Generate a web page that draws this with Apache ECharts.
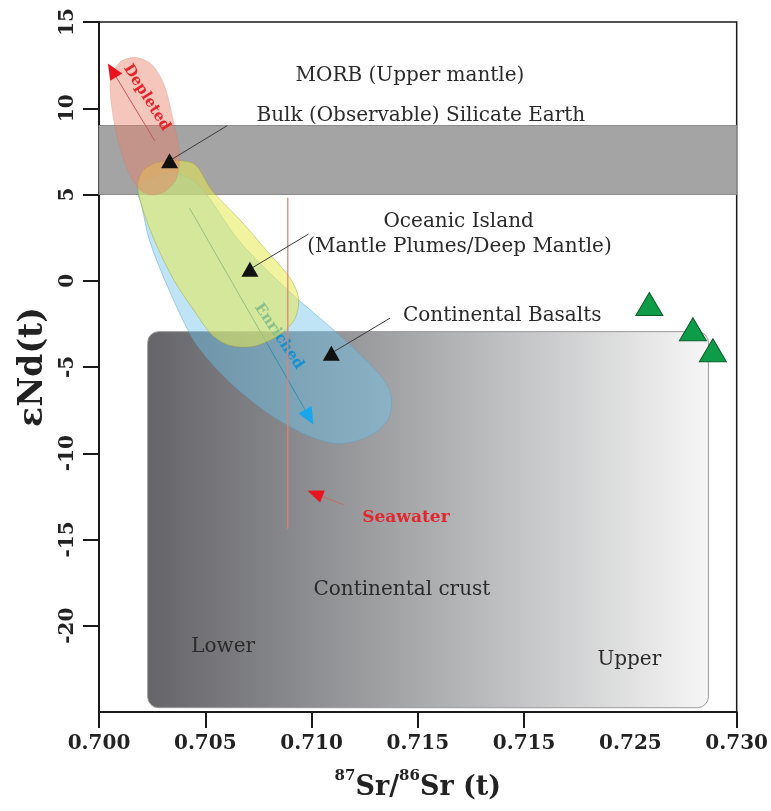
<!DOCTYPE html>
<html>
<head>
<meta charset="utf-8">
<script src="https://cdn.jsdelivr.net/npm/echarts@6/dist/echarts.min.js"></script>
<style>
  html, body { margin: 0; padding: 0; background: #ffffff; }
  #chart { width: 771px; height: 811px; }
</style>
</head>
<body>
<div id="chart"></div>
<script>
// ---- Axis ticks and labels ----
const xTickValues  = [0.700, 0.705, 0.710, 0.715, 0.720, 0.730];
const xLabelValues = [0.700, 0.705, 0.710, 0.715, 0.720, 0.725, 0.730];
const xTickLabels  = ['0.700', '0.705', '0.710', '0.715', '0.715', '0.725', '0.730'];
const yTickValues  = [-20, -15, -10, -5, 0, 5, 10, 15];

// ---- Reservoir fields (87Sr/86Sr, εNd) ----
const bseBand   = [0.700, 5, 0.730, 9];              // Bulk Silicate Earth band
const crustBox  = [0.70229, -2.95, 0.72867, -24.75];  // continental crust box

const depletedField = [
  [0.70168, 12.95], [0.70248, 12.54], [0.70308, 11.32], [0.70350, 9.28],
  [0.70379, 7.42], [0.70364, 5.91], [0.70308, 5.16], [0.70248, 4.98],
  [0.70192, 5.27], [0.70136, 6.38], [0.70084, 8.41], [0.70056, 10.45],
  [0.70056, 11.73], [0.70098, 12.66]
];
const oibField = [
  [0.70271, 6.84], [0.70379, 6.96], [0.70453, 6.73],
  [0.70533, 5.21], [0.70668, 3.47], [0.70790, 1.73], [0.70902, 0.10],
  [0.70939, -1.06], [0.70921, -2.23], [0.70846, -3.16], [0.70729, -3.80],
  [0.70612, -3.74], [0.70528, -3.10], [0.70449, -1.76], [0.70355, -0.02],
  [0.70262, 2.31], [0.70201, 4.34], [0.70182, 5.51], [0.70206, 6.38]
];
const enrichedField = [
  [0.70238, 5.91], [0.70355, 6.26], [0.70472, 5.51], [0.70659, 2.31],
  [0.70893, -0.60], [0.71126, -3.10], [0.71327, -5.54], [0.71374, -6.70],
  [0.71360, -8.04], [0.71266, -9.03], [0.71126, -9.44], [0.70972, -8.91],
  [0.70785, -7.58], [0.70598, -5.66], [0.70449, -3.51], [0.70332, -0.60],
  [0.70238, 2.31], [0.70201, 4.34], [0.70182, 5.33]
];

// ---- Points ----
const reservoirPoints = [[0.70332, 6.96], [0.70710, 0.67], [0.71093, -4.20]];
const samplePoints    = [[0.72589, -1.35], [0.72794, -2.81], [0.72888, -4.03]];

// leader lines: from reservoir point to its label
const leaderLines = [
  [0.70332, 6.96, 0.70603, 8.99],
  [0.70710, 0.67, 0.70986, 2.71],
  [0.71093, -4.20, 0.71369, -2.17]
];

// trend arrows: [x0, y0, xTip, yTip]
const depletedArrow = [0.70262, 8.12, 0.70042, 12.60];
const enrichedArrow = [0.70425, 4.23, 0.71009, -8.33];
const seawaterArrow = [0.71150, -12.98, 0.70981, -12.17];
const seawaterLine  = [0.70888, 4.81, 0.70888, -14.38];

// ---- Text annotations: [x, y, text] ----
const fieldLabels = [
  [0.71463, 11.90, 'MORB (Upper mantle)'],
  [0.71514, 9.57, 'Bulk (Observable) Silicate Earth'],
  [0.71692, 3.42, 'Oceanic Island'],
  [0.71696, 1.96, '(Mantle Plumes/Deep Mantle)'],
  [0.71897, -2.05, 'Continental Basalts'],
  [0.71425, -17.92, 'Continental crust'],
  [0.70584, -21.24, 'Lower'],
  [0.72495, -21.99, 'Upper']
];
const seawaterLabel = [0.71444, -13.74, 'Seawater'];
const depletedLabel = [0.70224, 10.62, 'Depleted'];
const enrichedLabel = [0.70846, -3.22, 'Enriched'];

const SERIF = '"DejaVu Serif", "Liberation Serif", serif';

const chart = echarts.init(document.getElementById('chart'), null, { renderer: 'canvas' });

function polygonSeries(points, fill, stroke, z) {
  return {
    type: 'custom',
    coordinateSystem: 'cartesian2d',
    z: z,
    silent: true,
    data: points,
    renderItem: function (params, api) {
      if (params.dataIndex !== 0) return null;
      const pts = points.map(p => api.coord(p));
      return {
        type: 'polygon',
        shape: { points: pts, smooth: 0.3 },
        style: { fill: fill, stroke: stroke, lineWidth: 0.8 }
      };
    }
  };
}

function rectSeries(box, style, radius, z) {
  return {
    type: 'custom',
    coordinateSystem: 'cartesian2d',
    z: z,
    silent: true,
    data: [box],
    renderItem: function (params, api) {
      const p0 = api.coord([api.value(0), api.value(1)]);
      const p1 = api.coord([api.value(2), api.value(3)]);
      return {
        type: 'rect',
        shape: {
          x: Math.min(p0[0], p1[0]), y: Math.min(p0[1], p1[1]),
          width: Math.abs(p1[0] - p0[0]), height: Math.abs(p1[1] - p0[1]),
          r: radius
        },
        style: style
      };
    }
  };
}

function arrowSeries(seg, lineColor, headColor, headLen, headWidth, z) {
  return {
    type: 'custom',
    coordinateSystem: 'cartesian2d',
    z: z,
    silent: true,
    data: [seg],
    renderItem: function (params, api) {
      const p0 = api.coord([api.value(0), api.value(1)]);
      const p1 = api.coord([api.value(2), api.value(3)]);
      const dx = p1[0] - p0[0], dy = p1[1] - p0[1];
      const len = Math.sqrt(dx * dx + dy * dy);
      const ux = dx / len, uy = dy / len;
      const bx = p1[0] - ux * headLen, by = p1[1] - uy * headLen;
      const nx = -uy * headWidth / 2, ny = ux * headWidth / 2;
      return {
        type: 'group',
        children: [
          { type: 'line', shape: { x1: p0[0], y1: p0[1], x2: bx, y2: by },
            style: { stroke: lineColor, lineWidth: 1 } },
          { type: 'polygon', shape: { points: [[p1[0], p1[1]], [bx + nx, by + ny], [bx - nx, by - ny]] },
            style: { fill: headColor } }
        ]
      };
    }
  };
}

function segmentSeries(segs, color, width, z) {
  return {
    type: 'custom',
    coordinateSystem: 'cartesian2d',
    z: z,
    silent: true,
    data: segs,
    renderItem: function (params, api) {
      const p0 = api.coord([api.value(0), api.value(1)]);
      const p1 = api.coord([api.value(2), api.value(3)]);
      return { type: 'line', shape: { x1: p0[0], y1: p0[1], x2: p1[0], y2: p1[1] },
               style: { stroke: color, lineWidth: width } };
    }
  };
}

function textSeries(items, font, color, rotateDeg, z) {
  return {
    type: 'custom',
    coordinateSystem: 'cartesian2d',
    z: z,
    silent: true,
    data: items,
    renderItem: function (params, api) {
      const item = items[params.dataIndex];
      const p = api.coord([item[0], item[1]]);
      return {
        type: 'text',
        x: p[0], y: p[1],
        rotation: rotateDeg * Math.PI / 180,
        style: { text: item[2], font: font, fill: color, align: 'center', verticalAlign: 'middle' }
      };
    }
  };
}

const option = {
  backgroundColor: '#ffffff',
  animation: false,
  grid: { left: 99, right: 31, top: 22, bottom: 99, show: true, borderColor: '#1a1a1a', borderWidth: 1.5, containLabel: false },
  xAxis: {
    type: 'value', min: 0.700, max: 0.730, interval: 0.005,
    axisLine: { show: true, onZero: false, lineStyle: { color: '#1a1a1a', width: 2 } },
    axisTick: { show: true, inside: false, length: 16, customValues: xTickValues, lineStyle: { color: '#1a1a1a', width: 2 } },
    axisLabel: {
      margin: 22, customValues: xLabelValues,
      fontFamily: SERIF, fontWeight: 'bold', fontSize: 20, color: '#222',
      formatter: function (v) {
        const i = Math.round((v - 0.700) / 0.005);
        return xTickLabels[i] || '';
      }
    },
    splitLine: { show: false },
    name: '{sup|87}{big|Sr/}{sup|86}{big|Sr (t)}',
    nameLocation: 'middle', nameGap: 57,
    nameTextStyle: {
      rich: {
        big: { fontFamily: SERIF, fontWeight: 'bold', fontSize: 27, color: '#222', lineHeight: 32, verticalAlign: 'bottom' },
        sup: { fontFamily: SERIF, fontWeight: 'bold', fontSize: 15, color: '#222', lineHeight: 32, verticalAlign: 'top' }
      }
    }
  },
  yAxis: {
    type: 'value', min: -25, max: 15, interval: 5,
    axisLine: { show: true, onZero: false, lineStyle: { color: '#1a1a1a', width: 2 } },
    axisTick: { show: true, inside: false, length: 16, customValues: yTickValues, lineStyle: { color: '#1a1a1a', width: 2 } },
    axisLabel: {
      margin: 21, rotate: 90, customValues: yTickValues,
      fontFamily: SERIF, fontWeight: 'bold', fontSize: 20, color: '#222'
    },
    splitLine: { show: false },
    name: 'εNd(t)', nameLocation: 'middle', nameGap: 48, nameRotate: 90,
    nameTextStyle: { fontFamily: SERIF, fontWeight: 'bold', fontSize: 33, color: '#222' }
  },
  series: [
    rectSeries(bseBand, { fill: '#a4a4a4', stroke: '#8c8c8c', lineWidth: 1 }, 0, 1),
    rectSeries(crustBox, {
      fill: new echarts.graphic.LinearGradient(0, 0, 1, 0, [
        { offset: 0, color: '#646469' },
        { offset: 0.5, color: '#abacae' },
        { offset: 1, color: '#f6f6f6' }
      ]),
      stroke: '#9a9a9a', lineWidth: 1
    }, 11, 2),
    polygonSeries(enrichedField, 'rgba(110,195,235,0.45)', 'rgba(90,160,200,0.6)', 3),
    arrowSeries(enrichedArrow, '#2f8fb0', '#19a6ea', 17, 15, 4),
    textSeries([enrichedLabel], 'bold 15px ' + SERIF, '#1590d0', -56, 4),
    polygonSeries(oibField, 'rgba(232,234,80,0.55)', 'rgba(160,160,60,0.6)', 5),
    polygonSeries(depletedField, 'rgba(232,128,105,0.45)', 'rgba(200,120,100,0.3)', 6),
    segmentSeries([seawaterLine], 'rgba(226,130,110,0.85)', 1.5, 7),
    arrowSeries(seawaterArrow, '#c86a60', '#e8141e', 16, 13, 7),
    arrowSeries(depletedArrow, '#c05858', '#e8141e', 16, 14, 7),
    segmentSeries(leaderLines, '#3a3a3a', 1, 8),
    {
      type: 'scatter', z: 9, silent: true,
      symbol: 'triangle', symbolSize: [17, 15],
      itemStyle: { color: '#111111', opacity: 1 },
      data: reservoirPoints
    },
    {
      type: 'scatter', z: 9, silent: true,
      symbol: 'triangle', symbolSize: [27, 23],
      itemStyle: { color: '#0e9c48', borderColor: '#0a5e2c', borderWidth: 1, opacity: 1 },
      data: samplePoints
    },
    textSeries(fieldLabels, '20px ' + SERIF, '#2a2a2a', 0, 10),
    textSeries([seawaterLabel], 'bold 17px ' + SERIF, '#e3262e', 0, 10),
    textSeries([depletedLabel], 'bold 15px ' + SERIF, '#e3262e', -58, 10)
  ]
};

chart.setOption(option);
</script>
</body>
</html>
